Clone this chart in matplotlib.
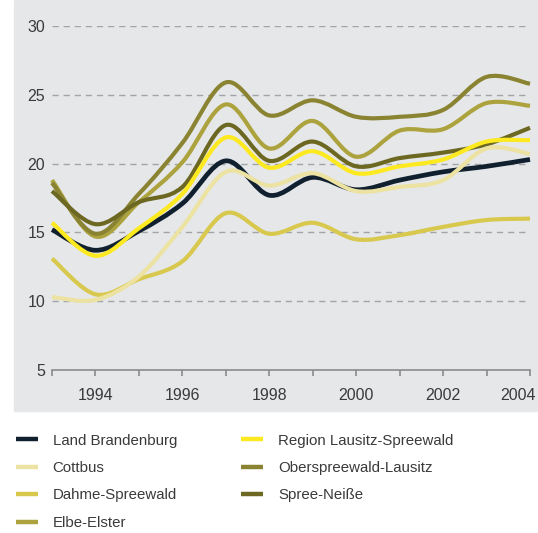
import numpy as np
import matplotlib.pyplot as plt
import matplotlib.transforms as mtransforms
from matplotlib.path import Path
from matplotlib.patches import PathPatch, Rectangle
from matplotlib.lines import Line2D

plt.rcParams['font.family'] = ['Liberation Sans', 'DejaVu Sans']

years = [1993, 1994, 1995, 1996, 1997, 1998, 1999, 2000, 2001, 2002, 2003, 2004]

land_brandenburg = [15.2, 13.7, 15.1, 17.1, 20.2, 17.7, 19.0, 18.1, 18.8, 19.4, 19.8, 20.3]
region_lausitz = [15.7, 13.3, 15.3, 17.8, 21.9, 19.7, 20.9, 19.3, 19.8, 20.3, 21.6, 21.7]
cottbus = [10.3, 10.1, 11.8, 15.4, 19.4, 18.4, 19.3, 18.0, 18.3, 18.8, 21.1, 20.7]
oberspreewald = [18.6, 14.9, 17.8, 21.5, 25.9, 23.5, 24.6, 23.4, 23.4, 23.9, 26.3, 25.8]
dahme = [13.1, 10.5, 11.6, 12.9, 16.4, 14.9, 15.7, 14.5, 14.8, 15.4, 15.9, 16.0]
spree_neisse = [18.0, 15.6, 17.2, 18.3, 22.8, 20.2, 21.6, 19.8, 20.4, 20.8, 21.4, 22.6]
elbe_elster = [18.8, 14.7, 17.2, 20.1, 24.3, 21.1, 23.1, 20.5, 22.4, 22.5, 24.4, 24.2]

names = ['Land Brandenburg', 'Cottbus', 'Dahme-Spreewald', 'Elbe-Elster',
         'Region Lausitz-Spreewald', 'Oberspreewald-Lausitz', 'Spree-Neiße']
series = [land_brandenburg, cottbus, dahme, elbe_elster,
          region_lausitz, oberspreewald, spree_neisse]
colors = ['#10202e', '#ece2a2', '#d8c94e', '#ada33e',
          '#fde920', '#8a8432', '#6c6822']
zorders = [2, 4, 2, 2, 3, 2, 2]


def smooth_path(x, y):
    # catmull-rom through the yearly points, as cubic bezier segments
    pts = np.column_stack([x, y]).astype(float)
    p = np.vstack([pts[0], pts, pts[-1]])
    verts = [pts[0]]
    codes = [Path.MOVETO]
    for i in range(1, len(p) - 2):
        c1 = p[i] + (p[i + 1] - p[i - 1]) / 6.0
        c2 = p[i + 1] - (p[i + 2] - p[i]) / 6.0
        verts += [c1, c2, p[i + 1]]
        codes += [Path.CURVE4] * 3
    return Path(verts, codes)


fig = plt.figure(figsize=(5.38, 5.33), dpi=100)
bg = Rectangle((14 / 538, 1 - 411 / 533), 1, 411 / 533,
               transform=fig.transFigure, color='#e6e7e9', zorder=-10)
fig.add_artist(bg)

ax = fig.add_axes([52 / 538, 1 - 370 / 533, 478 / 538, 344 / 533])
ax.patch.set_visible(False)

for vals, c, z in zip(series, colors, zorders):
    lw = 3.4 if c == '#10202e' else 3.0
    ax.add_patch(PathPatch(smooth_path(years, vals), fill=False, edgecolor=c,
                           linewidth=lw, capstyle='butt', joinstyle='round',
                           zorder=z, clip_on=False))

ax.set_xlim(1993, 2004)
ax.set_ylim(5, 30)

for v in [10, 15, 20, 25, 30]:
    ax.axhline(v, color='#a3a4a6', linewidth=1, linestyle=(0, (4.5, 3.5)), zorder=1)

ax.set_yticks([5, 10, 15, 20, 25, 30])
ax.set_xticks(years)
ax.set_xticklabels([str(y) if y % 2 == 0 else '' for y in years])

for s in ['left', 'right', 'top']:
    ax.spines[s].set_visible(False)
ax.spines['bottom'].set_color('#8a8b8d')
ax.spines['bottom'].set_linewidth(1.2)

ax.tick_params(axis='y', length=0, pad=5, labelsize=11.5, labelcolor='#3a3a3a')
ax.tick_params(axis='x', length=4, width=1.2, color='#8a8b8d', direction='out',
               pad=9, labelsize=11.5, labelcolor='#3a3a3a')

# last year label sits a bit left so it stays inside the picture
last = ax.get_xticklabels()[-1]
last.set_transform(last.get_transform() +
                   mtransforms.ScaledTranslation(-12 / 100, 0, fig.dpi_scale_trans))

handles = [Line2D([], [], color=c, linewidth=3.2, solid_capstyle='butt') for c in colors]
fig.legend(handles, names, ncol=2, loc='upper left',
           bbox_to_anchor=(2 / 538, 1 - 420 / 533), frameon=False,
           fontsize=10.8, handlelength=1.47, handletextpad=1.0,
           columnspacing=4.3, labelspacing=0.9, labelcolor='#3a3a3a')

plt.savefig('out.png', dpi=100)
